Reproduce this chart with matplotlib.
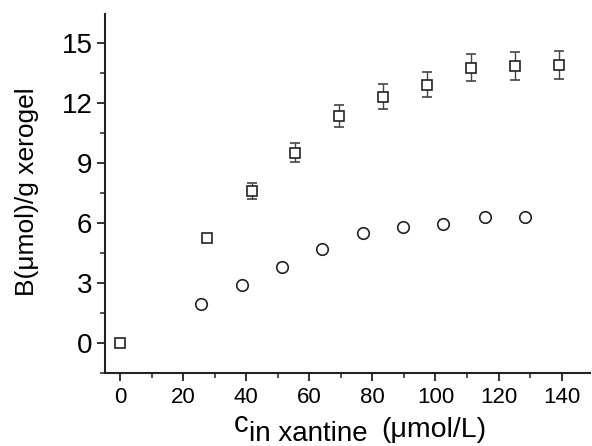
import matplotlib
matplotlib.use("Agg")
import matplotlib.pyplot as plt
from matplotlib.ticker import MultipleLocator

plt.rcParams['font.family'] = ['Liberation Sans', 'DejaVu Sans']

# Series 1 (squares)
sq_x = [0, 27.7, 41.7, 55.5, 69.5, 83.5, 97.4, 111.3, 125.3, 139.2]
sq_y = [0, 5.23, 7.62, 9.52, 11.37, 12.32, 12.93, 13.78, 13.86, 13.9]
sq_err = [0.1, 0.15, 0.4, 0.49, 0.56, 0.63, 0.64, 0.69, 0.7, 0.7]

# Series 2 (circles)
ci_x = [25.6, 38.6, 51.4, 64.0, 76.9, 89.8, 102.5, 115.6, 128.4]
ci_y = [1.94, 2.87, 3.79, 4.68, 5.51, 5.78, 5.95, 6.31, 6.31]
ci_err = [0.2, 0.18, 0.18, 0.15, 0.15, 0.15, 0.2, 0.2, 0.15]

x_ticks = [0, 20, 40, 60, 80, 100, 120, 140]
y_ticks = [0, 3, 6, 9, 12, 15]

W, H = 592, 446
fig = plt.figure(figsize=(W / 100, H / 100), dpi=100)
ax = fig.add_axes([105 / W, 1 - 373 / H, (590 - 105) / W, (373 - 14) / H])

ax.errorbar(sq_x, sq_y, yerr=sq_err, fmt='s', mfc='white', mec='#222222',
            mew=1.2, ms=7.5, ecolor='#444444', elinewidth=1.0, capsize=3.5,
            capthick=1.0, zorder=3)
ax.errorbar(ci_x, ci_y, yerr=ci_err, fmt='o', mfc='white', mec='#222222',
            mew=1.2, ms=8.3, ecolor='#444444', elinewidth=1.0, capsize=3,
            capthick=1.0, zorder=3)

ax.set_xlim(-4.75, 149)
ax.set_ylim(-1.52, 16.47)
ax.set_xticks(x_ticks)
ax.set_yticks(y_ticks)
ax.xaxis.set_minor_locator(MultipleLocator(10))
ax.yaxis.set_minor_locator(MultipleLocator(1.5))

for s in ['top', 'right']:
    ax.spines[s].set_visible(False)
for s in ['left', 'bottom']:
    ax.spines[s].set_linewidth(1.5)
    ax.spines[s].set_color('#222222')

ax.tick_params(axis='both', which='major', direction='out', length=6, width=1.3,
               color='#222222')
ax.tick_params(axis='both', which='minor', direction='out', length=3.5, width=1.1,
               color='#222222')
ax.tick_params(axis='x', labelsize=16, pad=4)
ax.tick_params(axis='y', labelsize=20, pad=3)

fig.text(27 / W, 1 - 192 / H, 'B(\u03bcmol)/g xerogel', rotation=90,
         fontsize=19, ha='center', va='center')

fig.text(234 / W, 1 - 432 / H, 'c', fontsize=21, ha='left', va='baseline')
fig.text(249 / W, 1 - 441 / H, 'in xantine', fontsize=20, ha='left', va='baseline')
fig.text(381 / W, 1 - 437 / H, '(\u03bcmol/L)', fontsize=20.5, ha='left', va='baseline')

fig.savefig('out.png', dpi=100)
